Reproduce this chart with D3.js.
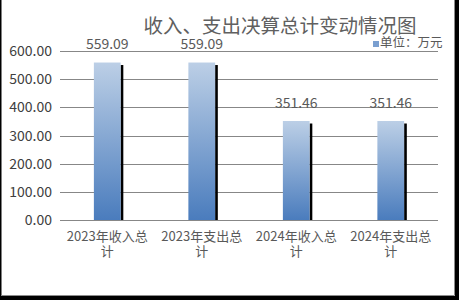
<!DOCTYPE html>
<html><head><meta charset="utf-8">
<script src="https://cdn.jsdelivr.net/npm/d3@7"></script>
<style>html,body{margin:0;padding:0;background:#fff;overflow:hidden}</style>
</head><body>
<svg id="c" width="459" height="300"></svg>
<script>
const categories = [["2023年收入总","计"],["2023年支出总","计"],["2024年收入总","计"],["2024年支出总","计"]];
const values = [559.09, 559.09, 351.46, 351.46];
const valueLabels = ["559.09","559.09","351.46","351.46"];
const yTicks = [0,100,200,300,400,500,600];
const title = "收入、支出决算总计变动情况图";
const legendLabel = "单位：万元";

const svg = d3.select("#c");
const font = "'Noto Sans CJK SC','DejaVu Sans',sans-serif";
const W = 459, H = 300;

// frame
svg.append("rect").attr("x",0).attr("y",0).attr("width",W).attr("height",H).attr("fill","#fff");
svg.append("rect").attr("x",455).attr("y",0).attr("width",4).attr("height",H).attr("fill","#000");
svg.append("rect").attr("x",0).attr("y",296).attr("width",W).attr("height",4).attr("fill","#000");
svg.append("rect").attr("x",0).attr("y",0).attr("width",1.5).attr("height",H).attr("fill","#000");
svg.append("line").attr("x1",454.5).attr("x2",454.5).attr("y1",0).attr("y2",295.5).attr("stroke","#8c8c8c");
svg.append("line").attr("x1",1).attr("x2",454.5).attr("y1",295.5).attr("y2",295.5).attr("stroke","#8c8c8c");

const x = d3.scaleBand().domain(d3.range(categories.length)).range([60,438]).paddingInner(0.717).paddingOuter(0.3585);
const y = d3.scaleLinear().domain([0,600]).range([220,51]);

const defs = svg.append("defs");
const g = defs.append("linearGradient").attr("id","bg").attr("x1",0).attr("y1",0).attr("x2",0).attr("y2",1);
g.append("stop").attr("offset","0%").attr("stop-color","#bccfe6");
g.append("stop").attr("offset","100%").attr("stop-color","#4a7cbd");

// gridlines
svg.append("g").selectAll("line").data(yTicks).join("line")
  .attr("x1",60).attr("x2",438)
  .attr("y1",d=>Math.round(y(d))+0.5).attr("y2",d=>Math.round(y(d))+0.5)
  .attr("stroke","#878787").attr("stroke-width",1);

// y tick labels
svg.append("g").selectAll("text").data(yTicks).join("text")
  .attr("x",52).attr("y",d=>y(d)).attr("dy","0.36em")
  .attr("text-anchor","end").attr("font-family",font).attr("font-size",14).attr("fill","#404040")
  .text(d=>d3.format(".2f")(d));

// shadows
svg.append("g").selectAll("rect").data(values).join("rect")
  .attr("x",(d,i)=>x(i)+x.bandwidth()).attr("width",2.7)
  .attr("y",d=>y(d)+2.5).attr("height",d=>y(0)-y(d)-2.5).attr("fill","#000");

// bars
svg.append("g").selectAll("rect").data(values).join("rect")
  .attr("x",(d,i)=>x(i)).attr("width",x.bandwidth())
  .attr("y",d=>y(d)).attr("height",d=>y(0)-y(d)).attr("fill","url(#bg)");

// value labels
svg.append("g").selectAll("text").data(values).join("text")
  .attr("x",(d,i)=>x(i)+x.bandwidth()/2).attr("y",d=>y(d)-13.5)
  .attr("text-anchor","middle").attr("font-family",font).attr("font-size",14).attr("fill","#595959")
  .text((d,i)=>valueLabels[i]);

// x labels
const xl = svg.append("g").selectAll("text").data(categories).join("text")
  .attr("x",(d,i)=>x(i)+x.bandwidth()/2).attr("y",241)
  .attr("text-anchor","middle").attr("font-family",font).attr("font-size",13).attr("fill","#595959");
xl.append("tspan").attr("x",(d,i)=>x(i)+x.bandwidth()/2).attr("dy",0).text(d=>d[0]);
xl.append("tspan").attr("x",(d,i)=>x(i)+x.bandwidth()/2).attr("dy",15).text(d=>d[1]);

// title
svg.append("text").attr("x",280).attr("y",33).attr("text-anchor","middle")
  .attr("font-family",font).attr("font-size",19.5).attr("fill","#606060").text(title);

// legend
svg.append("rect").attr("x",373).attr("y",41).attr("width",6).attr("height",6).attr("fill","#7a9fd0");
svg.append("text").attr("x",380).attr("y",47).attr("font-family",font).attr("font-size",12.5).attr("fill","#595959").text(legendLabel);
</script>
</body></html>
